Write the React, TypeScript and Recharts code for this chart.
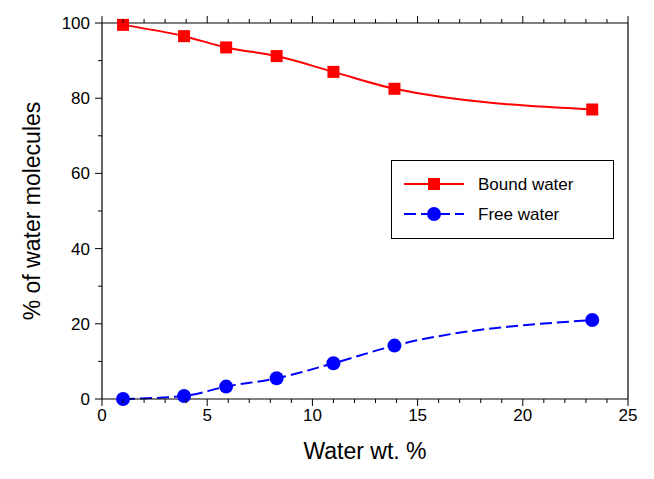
import React from 'react';
import { LineChart, Line, XAxis, YAxis, Label } from 'recharts';

const waterWt = [1, 3.9, 5.9, 8.3, 11, 13.9, 23.3];
const boundWater = [99.5, 96.5, 93.5, 91.2, 87, 82.5, 77];
const freeWater = [0, 0.8, 3.3, 5.5, 9.5, 14.2, 21];
const xTicks = Array.from({ length: 26 }, (_, i) => i);
const yTicks = Array.from({ length: 11 }, (_, i) => i * 10);

const data = waterWt.map((x, i) => ({ x, bound: boundWater[i], free: freeWater[i] }));

const font = 'Arial, "Liberation Sans", sans-serif';
const axisLine = { stroke: '#000', strokeWidth: 1.2 };

// tick with long mark + label on majors, short mark on minors
const makeTick = (side: 'bottom' | 'top' | 'left' | 'right', step: number, labels: boolean) => (props: any) => {
    const { x, y, payload } = props;
    const v = payload.value;
    const major = v % step === 0;
    const len = major ? 7 : 4;
    let line;
    if (side === 'bottom') line = <line x1={x} y1={y - 8} x2={x} y2={y - 8 + len} stroke="#000" />;
    else if (side === 'top') line = <line x1={x} y1={y + 8} x2={x} y2={y + 8 - len} stroke="#000" />;
    else if (side === 'left') line = <line x1={x + 8} y1={y} x2={x + 8 - len} y2={y} stroke="#000" />;
    else line = <line x1={x - 8} y1={y} x2={x - 8 + len} y2={y} stroke="#000" />;
    return (
        <g>
            {line}
            {labels && major && side === 'bottom' && (
                <text x={x} y={y + 14} textAnchor="middle" fontSize={17} fontFamily={font} fill="#000">{v}</text>
            )}
            {labels && major && side === 'left' && (
                <text x={x - 4} y={y + 6} textAnchor="end" fontSize={17} fontFamily={font} fill="#000">{v}</text>
            )}
        </g>
    );
};

const Square = (props: any) => {
    const { cx, cy } = props;
    return <rect x={cx - 6} y={cy - 6} width={12} height={12} fill="#ff0000" />;
};

const Dot = (props: any) => {
    const { cx, cy } = props;
    return <circle cx={cx} cy={cy} r={7} fill="#0000ff" />;
};

const LegendBox = () => (
    <div style={{ position: 'absolute', left: 391, top: 160, width: 221, height: 77, border: '1px solid #000', background: '#fff' }}>
        <svg width={221} height={77} style={{ position: 'absolute', left: 0, top: 0 }}>
            <line x1={12} y1={23} x2={72} y2={23} stroke="#ff0000" strokeWidth={2} />
            <rect x={36} y={17} width={12} height={12} fill="#ff0000" />
            <line x1={12} y1={53} x2={72} y2={53} stroke="#0000ff" strokeWidth={2} strokeDasharray="12 5" />
            <circle cx={42} cy={53} r={7} fill="#0000ff" />
            <text x={86} y={29} fontSize={17} fontFamily={font}>Bound water</text>
            <text x={86} y={59} fontSize={17} fontFamily={font}>Free water</text>
        </svg>
    </div>
);

export default function App() {
    return (
        <div style={{ position: 'relative', width: 654, height: 479, margin: -8, background: '#fff' }}>
            <LineChart width={654} height={479} data={data} margin={{ top: 15, right: 18, left: 32, bottom: 20 }}>
                <XAxis xAxisId="top" orientation="top" type="number" dataKey="x" domain={[0, 25]} ticks={xTicks} interval={0} tick={makeTick('top', 5, false)} tickLine={false} axisLine={axisLine} height={8} />
                <XAxis type="number" dataKey="x" domain={[0, 25]} ticks={xTicks} interval={0} tick={makeTick('bottom', 5, true)} tickLine={false} axisLine={axisLine} height={60}>
                    <Label value="Water wt. %" position="insideBottom" offset={0} style={{ fill: '#000', fontSize: 23, fontFamily: font }} />
                </XAxis>
                <YAxis yAxisId="right" orientation="right" type="number" domain={[0, 100]} ticks={yTicks} interval={0} tick={makeTick('right', 20, false)} tickLine={false} axisLine={axisLine} width={8} />
                <YAxis type="number" domain={[0, 100]} ticks={yTicks} interval={0} tick={makeTick('left', 20, true)} tickLine={false} axisLine={axisLine} width={70}>
                    <Label value="% of water molecules" angle={-90} position="insideLeft" offset={0} style={{ fill: '#000', fontSize: 23, fontFamily: font, textAnchor: 'middle' }} />
                </YAxis>
                <Line type="monotone" dataKey="bound" stroke="#ff0000" strokeWidth={2} dot={<Square />} isAnimationActive={false} />
                <Line type="monotone" dataKey="free" stroke="#0000ff" strokeWidth={2} strokeDasharray="12 5" dot={<Dot />} isAnimationActive={false} />
            </LineChart>
            <LegendBox />
        </div>
    );
}
